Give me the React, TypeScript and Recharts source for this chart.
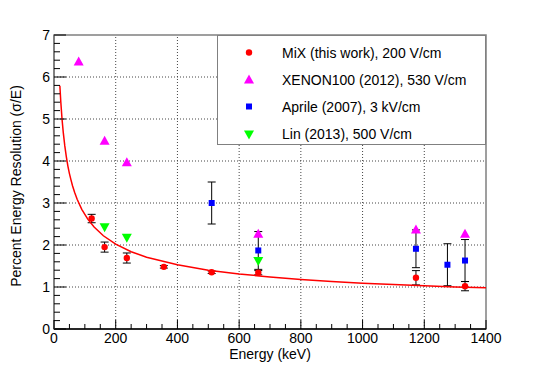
import React from 'react';
import {
  ScatterChart,
  Scatter,
  XAxis,
  YAxis,
  ErrorBar,
  ReferenceLine,
  ReferenceArea,
} from 'recharts';

// MiX (this work), 200 V/cm
const mixEnergy = [122, 164, 236, 356, 511, 662, 1173, 1332];
const mixRes = [2.63, 1.95, 1.69, 1.48, 1.35, 1.34, 1.22, 1.02];
const mixErr = [0.1, 0.12, 0.12, 0.03, 0.03, 0.05, 0.17, 0.11];

// XENON100 (2012), 530 V/cm
const xenonEnergy = [80, 164, 236, 662, 1173, 1332];
const xenonRes = [6.37, 4.48, 3.97, 2.27, 2.37, 2.27];

// Aprile (2007), 3 kV/cm
const aprileEnergy = [511, 662, 1173, 1275, 1332];
const aprileRes = [3.0, 1.87, 1.91, 1.53, 1.63];
const aprileErr = [0.5, 0.45, 0.45, 0.5, 0.5];

// Lin (2013), 500 V/cm
const linEnergy = [164, 236, 662];
const linRes = [2.42, 2.17, 1.62];

// fit curve
const fitEnergy = [19, 22, 26, 30, 35, 40, 45, 50, 55, 60, 67, 75, 90, 110, 130, 160, 200, 250, 300, 400, 500, 600, 700, 800, 900, 1000, 1100, 1200, 1300, 1400];
const fitRes = [5.79, 5.41, 5.0, 4.68, 4.36, 4.1, 3.88, 3.7, 3.55, 3.41, 3.25, 3.09, 2.85, 2.61, 2.43, 2.22, 2.02, 1.84, 1.71, 1.53, 1.4, 1.31, 1.24, 1.18, 1.13, 1.09, 1.06, 1.03, 1.0, 0.98];

const xMajor = [0, 200, 400, 600, 800, 1000, 1200, 1400];
const yMajor = [0, 1, 2, 3, 4, 5, 6, 7];
const xTicks = Array.from({ length: 29 }, (_, i) => i * 50);
const yTicks = Array.from({ length: 36 }, (_, i) => Math.round(i * 2) / 10);

const FONT = '"Liberation Sans", Arial, sans-serif';

const mixData = mixEnergy.map((e, i) => ({ e, r: mixRes[i], err: mixErr[i] }));
const xenonData = xenonEnergy.map((e, i) => ({ e, r: xenonRes[i] }));
const aprileData = aprileEnergy.map((e, i) => ({ e, r: aprileRes[i], err: aprileErr[i] }));
const linData = linEnergy.map((e, i) => ({ e, r: linRes[i] }));
const fitData = fitEnergy.map((e, i) => ({ e, r: fitRes[i] }));

const Circle = ({ cx, cy }: any) => <circle cx={cx} cy={cy} r={3.2} fill="#ff0000" />;
const TriUp = ({ cx, cy }: any) => (
  <polygon points={`${cx},${cy - 5} ${cx - 5},${cy + 4} ${cx + 5},${cy + 4}`} fill="#ff00ff" />
);
const Square = ({ cx, cy }: any) => <rect x={cx - 3} y={cy - 3} width={6} height={6} fill="#0000ff" />;
const TriDown = ({ cx, cy }: any) => (
  <polygon points={`${cx},${cy + 5} ${cx - 5},${cy - 4} ${cx + 5},${cy - 4}`} fill="#00ff00" />
);
const NoDot = () => null;

const YTick = ({ x, y, payload }: any) => {
  const major = yMajor.includes(payload.value);
  const ax = x + 4;
  return (
    <g>
      <line x1={ax} x2={ax + (major ? 12 : 6)} y1={y} y2={y} stroke="#000" />
      {major && (
        <text x={x} y={y + 5} textAnchor="end" fontSize={14} fontFamily={FONT} fill="#000">
          {payload.value}
        </text>
      )}
    </g>
  );
};

const XTick = ({ x, y, payload }: any) => {
  const major = xMajor.includes(payload.value);
  const ay = y - 4;
  return (
    <g>
      <line x1={x} x2={x} y1={ay} y2={ay - (major ? 9 : 5)} stroke="#000" />
      {major && (
        <text x={x} y={ay + 14} textAnchor="middle" fontSize={14} fontFamily={FONT} fill="#000">
          {payload.value}
        </text>
      )}
    </g>
  );
};

const legendItems = [
  { label: 'MiX (this work), 200 V/cm', Shape: Circle },
  { label: 'XENON100 (2012), 530 V/cm', Shape: TriUp },
  { label: 'Aprile (2007), 3 kV/cm', Shape: Square },
  { label: 'Lin (2013), 500 V/cm', Shape: TriDown },
];

export default function App() {
  return (
    <div style={{ position: 'relative', width: 532, height: 358 }}>
      <ScatterChart width={532} height={358} margin={{ top: 27, right: 54, left: 0, bottom: 0 }}>
        <XAxis
          type="number"
          dataKey="e"
          domain={[0, 1400]}
          ticks={xTicks}
          interval={0}
          tick={<XTick />}
          tickLine={false}
          tickSize={0}
          tickMargin={4}
          height={37}
          axisLine={{ stroke: '#000', strokeWidth: 1.5 }}
          allowDataOverflow
          label={{
            content: ({ viewBox }: any) => (
              <text
                x={viewBox.x + viewBox.width / 2}
                y={viewBox.y + 30}
                textAnchor="middle"
                fontSize={14}
                fontFamily={FONT}
                fill="#000"
              >
                Energy (keV)
              </text>
            ),
          }}
        />
        <YAxis
          type="number"
          dataKey="r"
          domain={[0, 7]}
          ticks={yTicks}
          interval={0}
          tick={<YTick />}
          tickLine={false}
          tickSize={0}
          tickMargin={4}
          width={46}
          axisLine={{ stroke: '#777', strokeWidth: 1.5 }}
          allowDataOverflow
          label={{
            content: ({ viewBox }: any) => {
              const cx = viewBox.x + 8;
              const cy = viewBox.y + viewBox.height / 2 + 4;
              return (
                <text
                  x={cx}
                  y={cy}
                  transform={`rotate(-90 ${cx} ${cy})`}
                  textAnchor="middle"
                  dominantBaseline="central"
                  fontSize={14}
                  fontFamily={FONT}
                  fill="#000"
                >
                  Percent Energy Resolution (σ/E)
                </text>
              );
            },
          }}
        />
        {xMajor.slice(1, -1).map((v) => (
          <ReferenceLine key={`x${v}`} x={v} stroke="#444" strokeDasharray="1 2" />
        ))}
        {yMajor.slice(1, -1).map((v) => (
          <ReferenceLine key={`y${v}`} y={v} stroke="#444" strokeDasharray="1 2" />
        ))}
        <ReferenceArea x1={0} x2={1400} y1={0} y2={7} fill="none" stroke="#808080" strokeWidth={1.5} />
        <Scatter
          data={fitData}
          line={{ stroke: '#ff0000', strokeWidth: 1.5 }}
          lineType="joint"
          shape={<NoDot />}
          isAnimationActive={false}
        />
        <Scatter data={aprileData} shape={<Square />} isAnimationActive={false}>
          <ErrorBar dataKey="err" direction="y" width={4} stroke="#000" strokeWidth={1} />
        </Scatter>
        <Scatter data={mixData} shape={<Circle />} isAnimationActive={false}>
          <ErrorBar dataKey="err" direction="y" width={4} stroke="#000" strokeWidth={1} />
        </Scatter>
        <Scatter data={xenonData} shape={<TriUp />} isAnimationActive={false} />
        <Scatter data={linData} shape={<TriDown />} isAnimationActive={false} />
      </ScatterChart>
      <div
        style={{
          position: 'absolute',
          left: 209,
          top: 27,
          width: 269,
          height: 110,
          boxSizing: 'border-box',
          border: '1.5px solid #808080',
          background: '#fff',
          fontFamily: FONT,
          fontSize: 14,
        }}
      >
        {legendItems.map(({ label, Shape }, i) => (
          <div
            key={label}
            style={{ position: 'absolute', left: 0, top: 3 + i * 27.2, height: 27, display: 'flex', alignItems: 'center' }}
          >
            <svg width={64} height={27} style={{ display: 'block' }}>
              <Shape cx={31} cy={13.5} />
            </svg>
            <span style={{ whiteSpace: 'nowrap' }}>{label}</span>
          </div>
        ))}
      </div>
    </div>
  );
}
